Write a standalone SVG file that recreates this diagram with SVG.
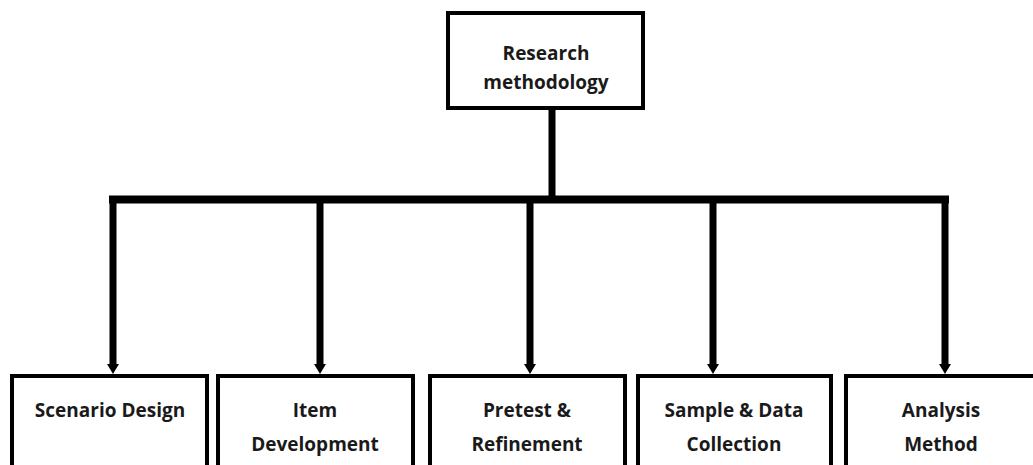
<svg xmlns="http://www.w3.org/2000/svg" width="1033" height="465" viewBox="0 0 1033 465">
  <style>
    .box { fill: #ffffff; stroke: #000000; stroke-width: 4; }
    .label { font-family: "Open Sans", "Noto Sans", "Liberation Sans", sans-serif; font-weight: 700; font-size: 19px; fill: #1a1a1a; text-anchor: middle; }
    .wire { fill: none; stroke: #000000; stroke-width: 7; }
    .bar { fill: none; stroke: #000000; stroke-width: 8; stroke-linecap: square; }
  </style>
  <defs>
    <marker id="arrow" markerUnits="userSpaceOnUse" markerWidth="16" markerHeight="12" refX="0" refY="6" orient="auto">
      <path d="M0,0 L10,6 L0,12 Z" fill="#000000"/>
    </marker>
  </defs>
  <rect width="1033" height="465" fill="#ffffff"/>

  <!-- connectors -->
  <g id="connectors">
    <line class="wire" x1="552" y1="108" x2="552" y2="199"/>
    <line class="bar" x1="113" y1="199.5" x2="945" y2="199.5"/>
    <line class="wire" x1="113" y1="199" x2="113" y2="364" marker-end="url(#arrow)"/>
    <line class="wire" x1="320" y1="199" x2="320" y2="364" marker-end="url(#arrow)"/>
    <line class="wire" x1="530" y1="199" x2="530" y2="364" marker-end="url(#arrow)"/>
    <line class="wire" x1="713" y1="199" x2="713" y2="364" marker-end="url(#arrow)"/>
    <line class="wire" x1="945" y1="199" x2="945" y2="364" marker-end="url(#arrow)"/>
  </g>

  <!-- root -->
  <g id="research-methodology">
    <rect class="box" x="448" y="13" width="195" height="95"/>
    <text class="label" x="546" y="60">Research</text>
    <text class="label" x="546" y="89">methodology</text>
  </g>

  <!-- children -->
  <g id="scenario-design">
    <rect class="box" x="12" y="376" width="195" height="120"/>
    <text class="label" x="110" y="417">Scenario Design</text>
  </g>
  <g id="item-development">
    <rect class="box" x="218" y="376" width="195" height="120"/>
    <text class="label" x="315" y="417">Item</text>
    <text class="label" x="315" y="451">Development</text>
  </g>
  <g id="pretest-refinement">
    <rect class="box" x="430" y="376" width="195" height="120"/>
    <text class="label" x="527" y="417">Pretest &amp;</text>
    <text class="label" x="527" y="451">Refinement</text>
  </g>
  <g id="sample-data-collection">
    <rect class="box" x="638" y="376" width="193" height="120"/>
    <text class="label" x="734" y="417">Sample &amp; Data</text>
    <text class="label" x="734" y="451">Collection</text>
  </g>
  <g id="analysis-method">
    <rect class="box" x="846" y="376" width="195" height="120"/>
    <text class="label" x="941" y="417">Analysis</text>
    <text class="label" x="941" y="451">Method</text>
  </g>
</svg>
